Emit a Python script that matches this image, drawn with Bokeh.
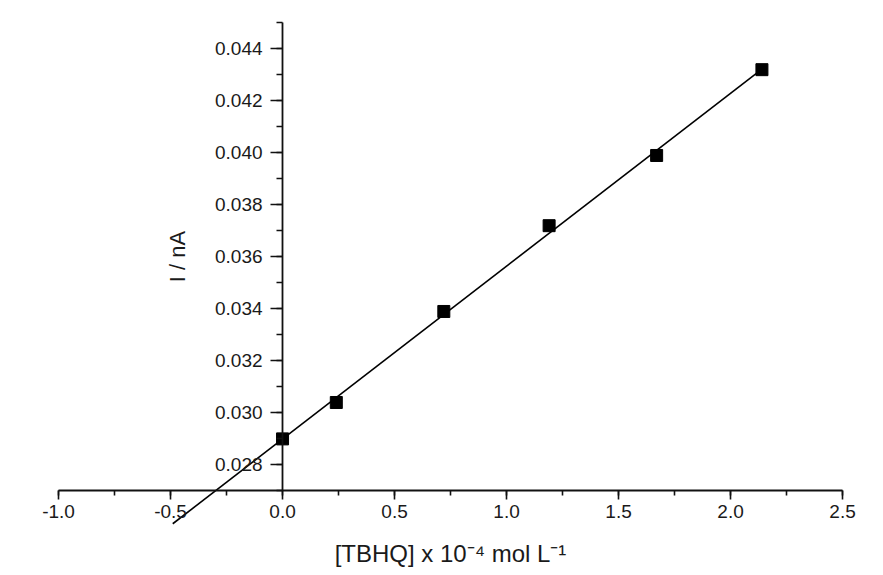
import numpy as np
from bokeh.plotting import figure
from bokeh.models import Range1d, SingleIntervalTicker, PrintfTickFormatter
from bokeh.embed import file_html
from bokeh.resources import INLINE

# ---- data ----
conc = [0.0, 0.24, 0.72, 1.19, 1.67, 2.14]          # [TBHQ] x 10^-4 mol L^-1
current = [0.0290, 0.0304, 0.0339, 0.0372, 0.0399, 0.0432]  # I / nA
fit_x_start = -0.49                                  # extrapolated fit line start
x_axis_bounds = (-1.0, 2.5)
y_axis_bounds = (0.027, 0.045)
x_view = (-1.259, 2.647)
y_view = (0.0239, 0.04586)
x_tick_step = 0.5
y_tick_step = 0.002

slope, intercept = np.polyfit(conc, current, 1)
fit_x = [fit_x_start, max(conc)]
fit_y = [slope * x + intercept for x in fit_x]

FONT = "Liberation Sans"
TXT = "#1a1a1a"

p = figure(
    frame_width=875, frame_height=571,
    min_border_left=0, min_border_right=0, min_border_top=0, min_border_bottom=0,
    x_range=Range1d(*x_view), y_range=Range1d(*y_view),
    output_backend="svg", toolbar_location=None,
    background_fill_color="white", border_fill_color="white",
)
p.outline_line_color = None
p.grid.visible = False

p.line(fit_x, fit_y, line_color="black", line_width=1.6)
p.scatter(conc, current, marker="square", size=12, fill_color="black", line_color="black")

# x axis
xa = p.xaxis[0]
xa.fixed_location = y_axis_bounds[0]
xa.bounds = x_axis_bounds
xa.ticker = SingleIntervalTicker(interval=x_tick_step, num_minor_ticks=2)
xa.formatter = PrintfTickFormatter(format="%.1f")
xa.axis_label = "[TBHQ] x 10\u207b\u2074 mol L\u207b\u00b9"

# y axis
ya = p.yaxis[0]
ya.fixed_location = 0
ya.bounds = y_axis_bounds
ya.ticker = SingleIntervalTicker(interval=y_tick_step, num_minor_ticks=2)
ya.formatter = PrintfTickFormatter(format="%.3f")
ya.axis_label = "I / nA"

for ax in (xa, ya):
    ax.axis_line_color = "#111111"
    ax.axis_line_width = 1.8
    ax.major_tick_line_color = "#111111"
    ax.minor_tick_line_color = "#111111"
    ax.major_tick_line_width = 1.6
    ax.minor_tick_line_width = 1.6
    ax.major_tick_in = 0
    ax.minor_tick_in = 0
    ax.major_label_text_font = FONT
    ax.major_label_text_font_size = "19px"
    ax.major_label_text_color = TXT
    ax.axis_label_text_font = FONT
    ax.axis_label_text_font_style = "normal"
    ax.axis_label_text_color = TXT

xa.axis_label_text_font_size = "24px"
ya.axis_label_text_font_size = "22px"

xa.major_tick_out = 9
xa.minor_tick_out = 5
xa.major_label_standoff = 5
xa.axis_label_standoff = 19

ya.major_tick_out = 12
ya.minor_tick_out = 6
ya.major_label_standoff = 8
ya.axis_label_standoff = 22

open("out.html", "w").write(file_html(p, INLINE))
